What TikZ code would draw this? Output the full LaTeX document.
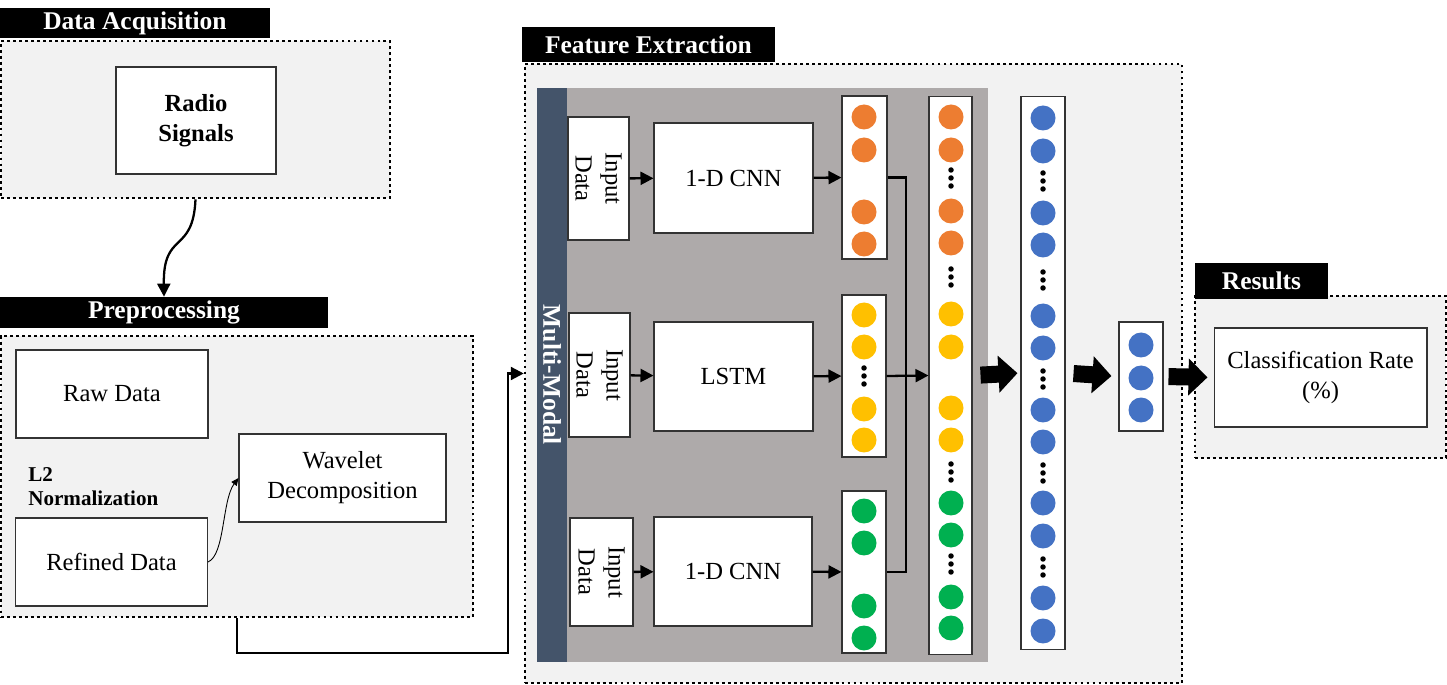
\documentclass[tikz,border=0pt]{standalone}
\usepackage{fontspec}
\setmainfont{Liberation Serif}
\usetikzlibrary{arrows.meta}

\definecolor{framegray}{HTML}{F2F2F2}
\definecolor{panelgray}{HTML}{AEAAAA}
\definecolor{modalblue}{HTML}{44546A}
\definecolor{neuronorange}{HTML}{ED7D31}
\definecolor{neuronyellow}{HTML}{FFC000}
\definecolor{neurongreen}{HTML}{00B050}
\definecolor{neuronblue}{HTML}{4472C4}

\tikzset{
  stage/.style={draw=black, line width=1.5pt, dash pattern=on 1.6pt off 1.8pt, fill=framegray, inner sep=0pt},
  stagetitle/.style={fill=black, text=white, font=\fontsize{14.5}{16}\selectfont\bfseries, inner sep=0pt},
  block/.style={draw=black!80, line width=0.6pt, fill=white, inner sep=0pt, align=center, font=\fontsize{14}{17}\selectfont},
  layer/.style={draw=black!80, line width=0.6pt, fill=white, inner sep=0pt},
  neuron/.style={circle, fill=#1, inner sep=0pt, minimum size=0.5cm},
  flow/.style={line width=1.3pt, -{Triangle[length=0.26cm, width=0.26cm]}},
  bigflow/.style={line width=0.34cm, -{Triangle[length=0.38cm, width=0.72cm]}},
}

\begin{document}
\begin{tikzpicture}[x=0.02cm, y=-0.02cm]
  \useasboundingbox (0,0) rectangle (1447,685);

  % data acquisition
  \node[stage, minimum width=7.78cm, minimum height=3.14cm] (acq) at (195.5,119.5) {};
  \node[stagetitle, minimum width=5.4cm, minimum height=0.6cm] (acqtitle) at (135,23) {Data Acquisition};
  \node[block, font=\fontsize{14}{17}\selectfont\bfseries, minimum width=3.2cm, minimum height=2.14cm] (radio) at (196,120.5) {Radio\\Signals};

  % preprocessing
  \node[stage, minimum width=9.44cm, minimum height=5.62cm] (pre) at (237,476.5) {};
  \node[stagetitle, minimum width=6.56cm, minimum height=0.62cm] (pretitle) at (164,312.5) {Preprocessing};
  \node[block, minimum width=3.84cm, minimum height=1.76cm] (raw) at (112,394) {Raw Data};
  \node[block, minimum width=3.84cm, minimum height=1.76cm] (refined) at (111.5,562) {Refined Data};
  \node[block, minimum width=4.14cm, minimum height=1.76cm] (wavelet) at (342.5,478) {Wavelet\\Decomposition};
  \node[anchor=west, align=left, inner sep=0pt, font=\fontsize{12}{13.6}\selectfont\bfseries] (norm) at (28,487) {L2\\Normalization};

  \draw[flow] (acq.south) .. controls (193,255) and (163,230) .. (pretitle.north);
  \draw[line width=0.5pt, -{Triangle[length=0.15cm, width=0.13cm]}] (refined.east) .. controls (225,555) and (222,500) .. (wavelet.west);

  % feature extraction
  \node[stage, minimum width=13.14cm, minimum height=12.38cm] (fe) at (853.5,373.5) {};
  \node[stagetitle, minimum width=5.06cm, minimum height=0.7cm] (fetitle) at (648.5,45) {Feature Extraction};
  \node[fill=panelgray, inner sep=0pt, minimum width=9.02cm, minimum height=11.48cm] (panel) at (762.5,375) {};
  \node[fill=modalblue, rotate=-90, inner sep=0pt, minimum width=11.48cm, minimum height=0.6cm, text=white, font=\fontsize{14.5}{16}\selectfont\bfseries] (modal) at (552,375) {Multi-Modal};

  \coordinate (bend) at (508,653);
  \draw[flow] (pre.south) |- (bend) |- (fe.west);

  \node[block, rotate=-90, minimum width=2.46cm, minimum height=1.22cm] (in1) at (598.5,178.5) {Input\\Data};
  \node[block, rotate=-90, minimum width=2.48cm, minimum height=1.22cm] (in2) at (599.5,375) {Input\\Data};
  \node[block, rotate=-90, minimum width=2.16cm, minimum height=1.26cm] (in3) at (601.5,572) {Input\\Data};

  \node[block, minimum width=3.18cm, minimum height=2.2cm] (cnn1) at (733.5,178) {1-D CNN};
  \node[block, minimum width=3.18cm, minimum height=2.18cm] (lstm) at (733.5,376.5) {LSTM};
  \node[block, minimum width=3.16cm, minimum height=2.18cm] (cnn2) at (733,571.5) {1-D CNN};

  \node[layer, minimum width=0.9cm, minimum height=3.26cm] (colorange) at (864.5,177.5) {};
  \node[layer, minimum width=0.88cm, minimum height=3.24cm] (colyellow) at (864,376) {};
  \node[layer, minimum width=0.88cm, minimum height=3.24cm] (colgreen) at (864,572) {};
  \node[layer, minimum width=0.86cm, minimum height=11.18cm] (concat) at (950.5,375.5) {};
  \node[layer, minimum width=0.88cm, minimum height=11.08cm] (dense) at (1043,373) {};
  \node[layer, minimum width=0.88cm, minimum height=2.18cm] (output) at (1141,376.5) {};

  % neurons
  \foreach \y [count=\i] in {117,150,212,244}
    \node[neuron=neuronorange] (o\i) at (864,\y) {};
  \foreach \y [count=\i] in {315,347,409,440}
    \node[neuron=neuronyellow] (y\i) at (864,\y) {};
  \foreach \y [count=\i] in {511,543,606,638}
    \node[neuron=neurongreen] (g\i) at (864,\y) {};
  \foreach \y [count=\i] in {117,150,211,243}
    \node[neuron=neuronorange] (co\i) at (951,\y) {};
  \foreach \y [count=\i] in {314,347,408,440}
    \node[neuron=neuronyellow] (cy\i) at (951,\y) {};
  \foreach \y [count=\i] in {503,535,597,628}
    \node[neuron=neurongreen] (cg\i) at (951,\y) {};
  \foreach \y [count=\i] in {118,151,213,245,316,348,410,442,503,536,598,631}
    \node[neuron=neuronblue] (d\i) at (1043,\y) {};
  \foreach \y [count=\i] in {345,378,410}
    \node[neuron=neuronblue] (out\i) at (1141,\y) {};

  % vertical dots
  \foreach \x/\y in {864/376, 951/178, 951/277, 951/472, 951/564, 1043/181, 1043/280, 1043/379, 1043/473, 1043/567}
    \foreach \d in {-8,0,8}
      \fill ({\x},{\y+\d}) circle (0.055cm);

  % connectors
  \draw[flow] (in1) -- (cnn1);
  \draw[flow] (in2) -- (lstm);
  \draw[flow] (in3) -- (cnn2);
  \draw[flow] (cnn1) -- (colorange);
  \draw[flow] (lstm) -- (colyellow);
  \draw[flow] (cnn2) -- (colgreen);
  \coordinate (join) at (906,376);
  \draw[line width=1.3pt] (colorange.east) -| (join) |- (colgreen.east);
  \draw[flow] (colyellow.east) -- (concat.west);

  % results
  \node[stage, minimum width=5.02cm, minimum height=3.24cm] (res) at (1320.5,377) {};
  \node[stagetitle, minimum width=2.66cm, minimum height=0.72cm] (restitle) at (1261.5,281) {Results};
  \node[block, minimum width=4.26cm, minimum height=1.98cm] (rate) at (1320.5,377.5) {Classification Rate\\(\%)};

  \draw[bigflow, shorten <=0.16cm, shorten >=0.06cm] (concat.east) -- (dense.west);
  \draw[bigflow, shorten <=0.16cm, shorten >=0.14cm] (dense.east) -- (output.west);
  \draw[bigflow, shorten <=0.1cm, shorten >=0.12cm] (output.east) -- (rate.west);
\end{tikzpicture}
\end{document}
